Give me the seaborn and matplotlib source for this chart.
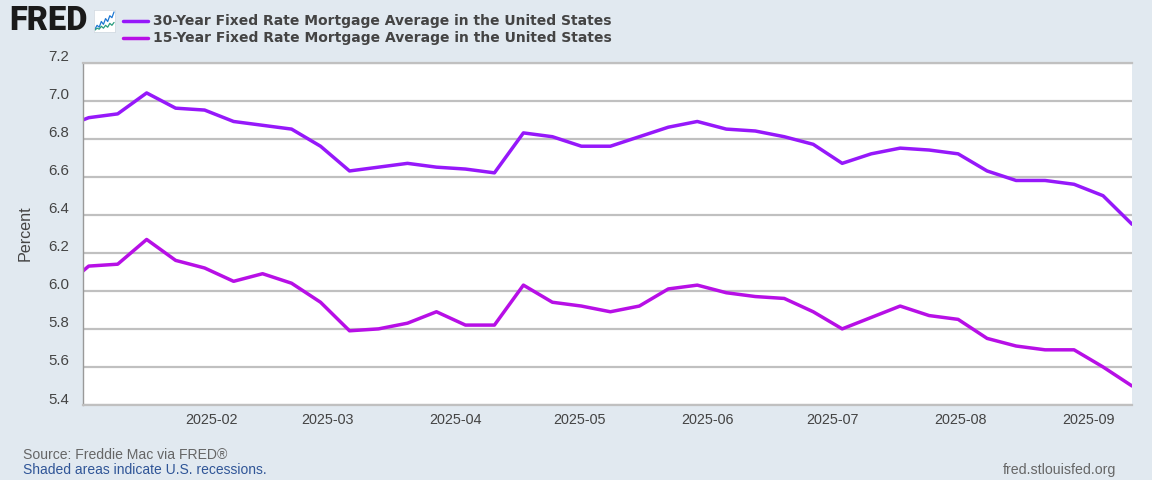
import matplotlib
matplotlib.use("Agg")
import matplotlib.pyplot as plt
import matplotlib.dates as mdates
import numpy as np
import pandas as pd
import seaborn as sns

dates = ["2024-12-26","2025-01-02","2025-01-09","2025-01-16","2025-01-23","2025-01-30","2025-02-06","2025-02-13",
         "2025-02-20","2025-02-27","2025-03-06","2025-03-13","2025-03-20","2025-03-27","2025-04-03","2025-04-10",
         "2025-04-17","2025-04-24","2025-05-01","2025-05-08","2025-05-15","2025-05-22","2025-05-29","2025-06-05",
         "2025-06-12","2025-06-19","2025-06-26","2025-07-03","2025-07-10","2025-07-17","2025-07-24","2025-07-31",
         "2025-08-07","2025-08-14","2025-08-21","2025-08-28","2025-09-04","2025-09-11"]
rate_30 = [6.85,6.91,6.93,7.04,6.96,6.95,6.89,6.87,6.85,6.76,6.63,6.65,6.67,6.65,6.64,6.62,6.83,6.81,6.76,6.76,
           6.81,6.86,6.89,6.85,6.84,6.81,6.77,6.67,6.72,6.75,6.74,6.72,6.63,6.58,6.58,6.56,6.50,6.35]
rate_15 = [6.00,6.13,6.14,6.27,6.16,6.12,6.05,6.09,6.04,5.94,5.79,5.80,5.83,5.89,5.82,5.82,6.03,5.94,5.92,5.89,
           5.92,6.01,6.03,5.99,5.97,5.96,5.89,5.80,5.86,5.92,5.87,5.85,5.75,5.71,5.69,5.69,5.60,5.50]
name_30 = "30-Year Fixed Rate Mortgage Average in the United States"
name_15 = "15-Year Fixed Rate Mortgage Average in the United States"
y_ticks = [5.4,5.6,5.8,6.0,6.2,6.4,6.6,6.8,7.0,7.2]
x_ticks = ["2025-02-01","2025-03-01","2025-04-01","2025-05-01","2025-06-01","2025-07-01","2025-08-01","2025-09-01"]
icon_blue = [1,3,2,5,3.5,6.5,5,8,7,10]
icon_green = [0.5,1.5,1,2.5,1.5,3,2,4,3,4.5]

BG = "#E1E9F0"
C30 = "#9618FA"
C15 = "#B70FE6"
W, H = 1152, 480

sns.set_theme(style="white")
plt.rcParams["font.family"] = ["Liberation Sans", "DejaVu Sans"]

fig = plt.figure(figsize=(W/100, H/100), dpi=100, facecolor=BG)
ax = fig.add_axes([83/W, 1-405/H, (1132-83)/W, (405-62.5)/H], facecolor="white")

df = pd.DataFrame({"date": pd.to_datetime(dates) + pd.Timedelta(hours=10), name_30: rate_30, name_15: rate_15})
long = df.melt("date", var_name="series", value_name="rate")
sns.lineplot(data=long, x="date", y="rate", hue="series", hue_order=[name_30, name_15],
             palette=[C30, C15], linewidth=2.5, ax=ax, legend=False, errorbar=None,
             solid_joinstyle="round")

ax.set_ylim(5.4, 7.2)
ax.set_xlim(pd.Timestamp("2025-01-01 01:00"), pd.Timestamp("2025-09-11 10:00"))
ax.set_yticks(y_ticks)
ax.set_yticklabels([])
ax.yaxis.grid(True, color="#C0C0C0", linewidth=1.6)
ax.xaxis.grid(False)
ax.set_axisbelow(True)
ax.set_xticks(pd.to_datetime(x_ticks))
ax.xaxis.set_major_formatter(mdates.DateFormatter("%Y-%m"))
ax.tick_params(axis="x", length=7, width=0.8, color="#C8D7E8", labelsize=10.4,
               labelcolor="#444444", pad=-1)
ax.tick_params(axis="y", length=0)
ax.set_xlabel("")
ax.set_ylabel("")
for s in ["top", "bottom"]:
    ax.spines[s].set_color("#C0C0C0")
    ax.spines[s].set_linewidth(1.6)
ax.spines["right"].set_visible(False)
ax.spines["left"].set_color("#999999")
ax.spines["left"].set_linewidth(1.0)

for v in y_ticks:
    fig.text(69/W, 1-(405-(v-5.4)/1.8*342.5-5.5)/H, f"{v:.1f}", ha="right", va="center",
             fontsize=10.8, color="#444444")

fig.text(25/W, 1-233/H, "Percent", rotation=90, ha="center", va="center", fontsize=11.6, color="#444444")

# legend
for name, col, y in [(name_30, C30, 21), (name_15, C15, 38)]:
    fig.add_artist(plt.Line2D([123/W, 148/W], [1-y/H, 1-y/H], color=col, lw=2.5))
    fig.text(153/W, 1-y/H, name, ha="left", va="center", fontsize=10.03, fontweight="bold",
             color="#444444", family="DejaVu Sans")

# logo
fig.text(9/W, 1-21/H, "FRED", ha="left", va="center", fontsize=23.5, fontweight="black", color="#1A1A1A",
         family="Roboto")
ic = fig.add_axes([94/W, 1-32/H, 21/W, 22/H], facecolor="white")
ic.plot(icon_blue, color="#1E78D2", lw=0.9)
ic.plot(icon_green, color="#2A9D7F", lw=0.9)
ic.set_xticks([]); ic.set_yticks([])
ic.set_ylim(-0.5, 11)
for s in ic.spines.values():
    s.set_color("#D5DCE3")
    s.set_linewidth(0.6)

# footer
fig.text(23/W, 1-455/H, "Source: Freddie Mac via FRED\u00ae", ha="left", va="center", fontsize=10.1, color="#666666")
fig.text(23/W, 1-470/H, "Shaded areas indicate U.S. recessions.", ha="left", va="center", fontsize=10.0, color="#2F5597")
fig.text(1116/W, 1-470/H, "fred.stlouisfed.org", ha="right", va="center", fontsize=10.2, color="#666666")

fig.savefig("out.png", dpi=100, facecolor=BG)
